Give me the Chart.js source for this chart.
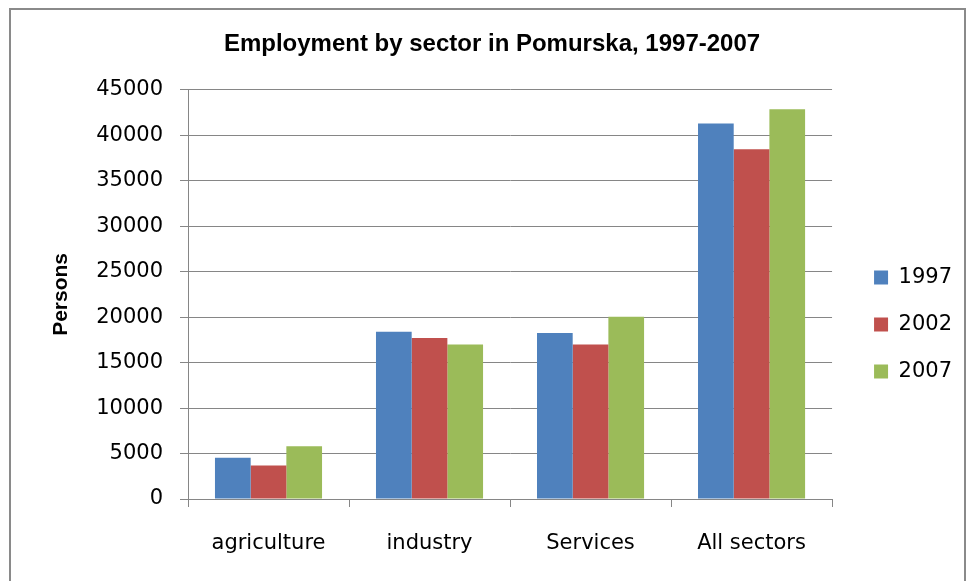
<!DOCTYPE html>
<html>
<head>
<meta charset="utf-8">
<script src="https://cdn.jsdelivr.net/npm/chart.js@4"></script>
<style>
  html, body { margin: 0; padding: 0; background: #fff; }
  canvas { display: block; }
</style>
</head>
<body>
<canvas id="myChart" width="969" height="581"></canvas>
<script>
var sectors = ["agriculture", "industry", "Services", "All sectors"];
var years = ["1997", "2002", "2007"];
var data1997 = [4530, 18400, 18250, 41300];
var data2002 = [3690, 17700, 17000, 38450];
var data2007 = [5800, 17000, 20050, 42850];
var yTicks = [0, 5000, 10000, 15000, 20000, 25000, 30000, 35000, 40000, 45000];

var gridGray = '#868686';
var tickFont = { family: 'DejaVu Sans', size: 21 };

// gray frame round the whole chart, like the Excel chart border
var frame = {
    id: 'frame',
    beforeDraw: function (chart) {
        var c = chart.ctx;
        c.save();
        c.fillStyle = '#fff';
        c.fillRect(0, 0, chart.width, chart.height);
        c.strokeStyle = '#8a8a8a';
        c.lineWidth = 2;
        c.strokeRect(10, 9, 955, 600);
        c.restore();
    }
};

var ctx = document.getElementById("myChart").getContext('2d');

var myChart = new Chart(ctx, {
    type: 'bar',
    data: {
        labels: sectors,
        datasets: [{
            label: years[0],
            data: data1997,
            backgroundColor: '#4F81BD'
        }, {
            label: years[1],
            data: data2002,
            backgroundColor: '#C0504D'
        }, {
            label: years[2],
            data: data2007,
            backgroundColor: '#9BBB59'
        }]
    },
    options: {
        responsive: false,
        animation: false,
        layout: {
            padding: { left: 22, right: 7, top: 10, bottom: 27 }
        },
        datasets: {
            bar: {
                categoryPercentage: 0.665,
                barPercentage: 1,
                borderWidth: 0
            }
        },
        plugins: {
            title: {
                display: true,
                text: 'Employment by sector in Pomurska, 1997-2007',
                color: '#000',
                font: { family: 'Liberation Sans', size: 24, weight: 'bold' },
                padding: { top: 20, bottom: 31 }
            },
            legend: {
                position: 'right',
                title: {
                    display: true,
                    text: '',
                    font: { size: 10, lineHeight: 1 },
                    padding: { top: 0, bottom: 75 }
                },
                labels: {
                    boxWidth: 14,
                    boxHeight: 14,
                    padding: 26,
                    color: '#000',
                    font: tickFont
                }
            },
            tooltip: { enabled: false }
        },
        scales: {
            x: {
                grid: {
                    offset: true,
                    drawOnChartArea: false,
                    color: gridGray,
                    tickLength: 8
                },
                border: { color: gridGray, width: 1 },
                ticks: {
                    color: '#000',
                    font: tickFont,
                    padding: 24
                },
                afterFit: function (scale) { scale.height = 55; }
            },
            y: {
                min: 0,
                max: 45000,
                afterBuildTicks: function (scale) {
                    scale.ticks = yTicks.map(function (v) { return { value: v }; });
                },
                grid: {
                    color: gridGray,
                    tickLength: 8
                },
                border: { color: gridGray, width: 1 },
                ticks: {
                    color: '#000',
                    font: tickFont,
                    padding: 17,
                    callback: function (value) { return String(value); }
                },
                title: {
                    display: true,
                    text: 'Persons',
                    color: '#000',
                    font: { family: 'Liberation Sans', size: 21, weight: 'bold' },
                    padding: { top: 27, bottom: 0 }
                },
                afterFit: function (scale) { scale.width = 166; }
            },
            // empty spacer between plot area and legend
            gap: {
                position: 'right',
                display: true,
                grid: { display: false },
                border: { display: false },
                ticks: { display: false },
                afterFit: function (scale) { scale.width = 16; }
            }
        }
    },
    plugins: [frame]
});
</script>
</body>
</html>
